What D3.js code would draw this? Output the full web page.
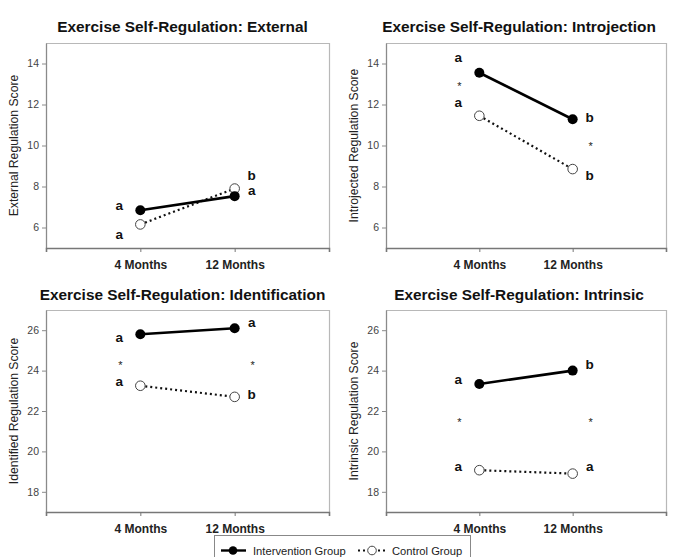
<!DOCTYPE html>
<html>
<head>
<meta charset="utf-8">
<script src="https://cdn.jsdelivr.net/npm/d3@7"></script>
<style>
  html, body { margin: 0; padding: 0; background: #fff; }
  svg { display: block; }
</style>
</head>
<body>
<svg id="chart" width="673" height="557"></svg>
<script>
// ---------- DATA ----------
const timepoints = ["4 Months", "12 Months"];
const panelTitles = [
  "Exercise Self-Regulation: External",
  "Exercise Self-Regulation: Introjection",
  "Exercise Self-Regulation: Identification",
  "Exercise Self-Regulation: Intrinsic"
];
const yAxisLabels = [
  "External Regulation Score",
  "Introjected Regulation Score",
  "Identified Regulation Score",
  "Intrinsic Regulation Score"
];
const yDomains = [[5, 15], [5, 15], [17, 27], [17, 27]];
const yTickValues = [[6, 8, 10, 12, 14], [6, 8, 10, 12, 14], [18, 20, 22, 24, 26], [18, 20, 22, 24, 26]];
const interventionValues = [[6.84, 7.53], [13.55, 11.28], [25.8, 26.1], [23.34, 24.0]];
const controlValues = [[6.15, 7.9], [11.45, 8.85], [23.25, 22.7], [19.07, 18.9]];
// significance letters: [panel][timepoint] -> {intervention letter, control letter, star}
const interventionLetters = [["a", "a"], ["a", "b"], ["a", "a"], ["a", "b"]];
const controlLetters = [["a", "b"], ["a", "b"], ["a", "b"], ["a", "a"]];
const groupDifference = [[false, false], [true, true], [true, true], [true, true]];
// annotation heights in data units: [panel][timepoint]
const interventionLetterY = [[7.08, 7.82], [14.28, 11.37], [25.62, 26.36], [23.54, 24.28]];
const controlLetterY = [[5.66, 8.56], [12.1, 8.56], [23.48, 22.82], [19.27, 19.27]];
const starY = [[null, null], [13.04, 10.14], [24.42, 24.42], [21.6, 21.6]];
const legendLabels = ["Intervention Group", "Control Group"];

// ---------- LAYOUT ----------
const colX = [[46, 329], [386, 666]];
const rowY = [[43, 248], [310, 512]];
const titleY = [26, 294];
const svg = d3.select("#chart");
const font = "'Liberation Sans', Arial, sans-serif";

panelTitles.forEach((title, i) => {
  const col = i % 2, row = Math.floor(i / 2);
  const [x0, x1] = colX[col];
  const [y0, y1] = rowY[row];
  const g = svg.append("g");

  const x = d3.scalePoint().domain(timepoints).range([x0, x1]).padding(1);
  const y = d3.scaleLinear().domain(yDomains[i]).range([y1, y0]);

  // frame: top & right (light)
  g.append("path")
    .attr("d", `M${x0},${y0 + 0.5}H${x1 + 0.5}V${y1}`)
    .attr("fill", "none").attr("stroke", "#b8b8b8").attr("stroke-width", 1.2);

  // Y axis
  const yAxis = g.append("g").attr("transform", `translate(${x0},0)`)
    .call(d3.axisLeft(y).tickValues(yTickValues[i]).tickSize(4).tickPadding(3).tickSizeOuter(0));
  yAxis.select(".domain").attr("stroke", "#8a8a8a").attr("stroke-width", 1.3);
  yAxis.selectAll(".tick line").attr("stroke", "#8a8a8a");
  yAxis.selectAll(".tick text").attr("font-family", font).attr("font-size", 10.5).attr("fill", "#444");

  // X axis
  const xAxis = g.append("g").attr("transform", `translate(0,${y1})`)
    .call(d3.axisBottom(x).tickSize(4).tickSizeOuter(4).tickPadding(8));
  xAxis.select(".domain").attr("stroke", "#777").attr("stroke-width", 1.6);
  xAxis.selectAll(".tick line").attr("stroke", "#777");
  xAxis.selectAll(".tick text").attr("font-family", font).attr("font-size", 12)
    .attr("font-weight", "bold").attr("fill", "#222");

  // title
  svg.append("text")
    .attr("x", (x0 + x1) / 2 + (col === 0 ? -5 : -7)).attr("y", titleY[row])
    .attr("text-anchor", "middle").attr("dominant-baseline", "central")
    .attr("font-family", font).attr("font-size", 15.4).attr("font-weight", "bold")
    .attr("fill", "#111").text(title);

  // y label
  svg.append("text")
    .attr("transform", `translate(${x0 - 32},${(y0 + y1) / 2}) rotate(-90)`)
    .attr("text-anchor", "middle").attr("dominant-baseline", "central")
    .attr("font-family", font).attr("font-size", 12.2).attr("fill", "#222")
    .text(yAxisLabels[i]);

  const line = d3.line().x((d, j) => x(timepoints[j])).y(d => y(d));

  // control (dotted)
  g.append("path").datum(controlValues[i]).attr("d", line)
    .attr("fill", "none").attr("stroke", "#111").attr("stroke-width", 2.2)
    .attr("stroke-dasharray", "2,3");
  // intervention (solid)
  g.append("path").datum(interventionValues[i]).attr("d", line)
    .attr("fill", "none").attr("stroke", "#000").attr("stroke-width", 2.6);

  g.selectAll("circle.ctl").data(controlValues[i]).join("circle")
    .attr("class", "ctl")
    .attr("cx", (d, j) => x(timepoints[j])).attr("cy", d => y(d)).attr("r", 4.8)
    .attr("fill", "#fff").attr("stroke", "#444").attr("stroke-width", 1);
  g.selectAll("circle.int").data(interventionValues[i]).join("circle")
    .attr("class", "int")
    .attr("cx", (d, j) => x(timepoints[j])).attr("cy", d => y(d)).attr("r", 5)
    .attr("fill", "#000");

  // annotations
  timepoints.forEach((t, j) => {
    const ax = x(t) + (j === 0 ? -21 : 17);
    g.append("text").attr("x", ax).attr("y", y(interventionLetterY[i][j]) + 4.5)
      .attr("text-anchor", "middle").attr("font-family", font).attr("font-size", 13.5)
      .attr("font-weight", "bold").attr("fill", "#111").text(interventionLetters[i][j]);
    g.append("text").attr("x", ax).attr("y", y(controlLetterY[i][j]) + 4.5)
      .attr("text-anchor", "middle").attr("font-family", font).attr("font-size", 13.5)
      .attr("font-weight", "bold").attr("fill", "#111").text(controlLetters[i][j]);
    if (groupDifference[i][j]) {
      g.append("text").attr("x", ax + 1).attr("y", y(starY[i][j]) + 7)
        .attr("text-anchor", "middle").attr("font-family", font).attr("font-size", 11)
        .attr("fill", "#222").text("*");
    }
  });
});

// ---------- LEGEND ----------
const lg = svg.append("g");
lg.append("rect").attr("x", 214.5).attr("y", 535.5).attr("width", 256).attr("height", 30)
  .attr("fill", "#fff").attr("stroke", "#888").attr("stroke-width", 1);
const ly = 550.5;
lg.append("line").attr("x1", 221).attr("x2", 246).attr("y1", ly).attr("y2", ly)
  .attr("stroke", "#000").attr("stroke-width", 2.4);
lg.append("circle").attr("cx", 233).attr("cy", ly).attr("r", 4.3).attr("fill", "#000");
lg.append("text").attr("x", 253).attr("y", ly).attr("dominant-baseline", "central")
  .attr("font-family", font).attr("font-size", 11.2).attr("fill", "#222").text(legendLabels[0]);
lg.append("line").attr("x1", 358).attr("x2", 386).attr("y1", ly).attr("y2", ly)
  .attr("stroke", "#111").attr("stroke-width", 2).attr("stroke-dasharray", "2,3");
lg.append("circle").attr("cx", 372).attr("cy", ly).attr("r", 4.3)
  .attr("fill", "#fff").attr("stroke", "#444").attr("stroke-width", 1);
lg.append("text").attr("x", 392).attr("y", ly).attr("dominant-baseline", "central")
  .attr("font-family", font).attr("font-size", 11.2).attr("fill", "#222").text(legendLabels[1]);
</script>
</body>
</html>
